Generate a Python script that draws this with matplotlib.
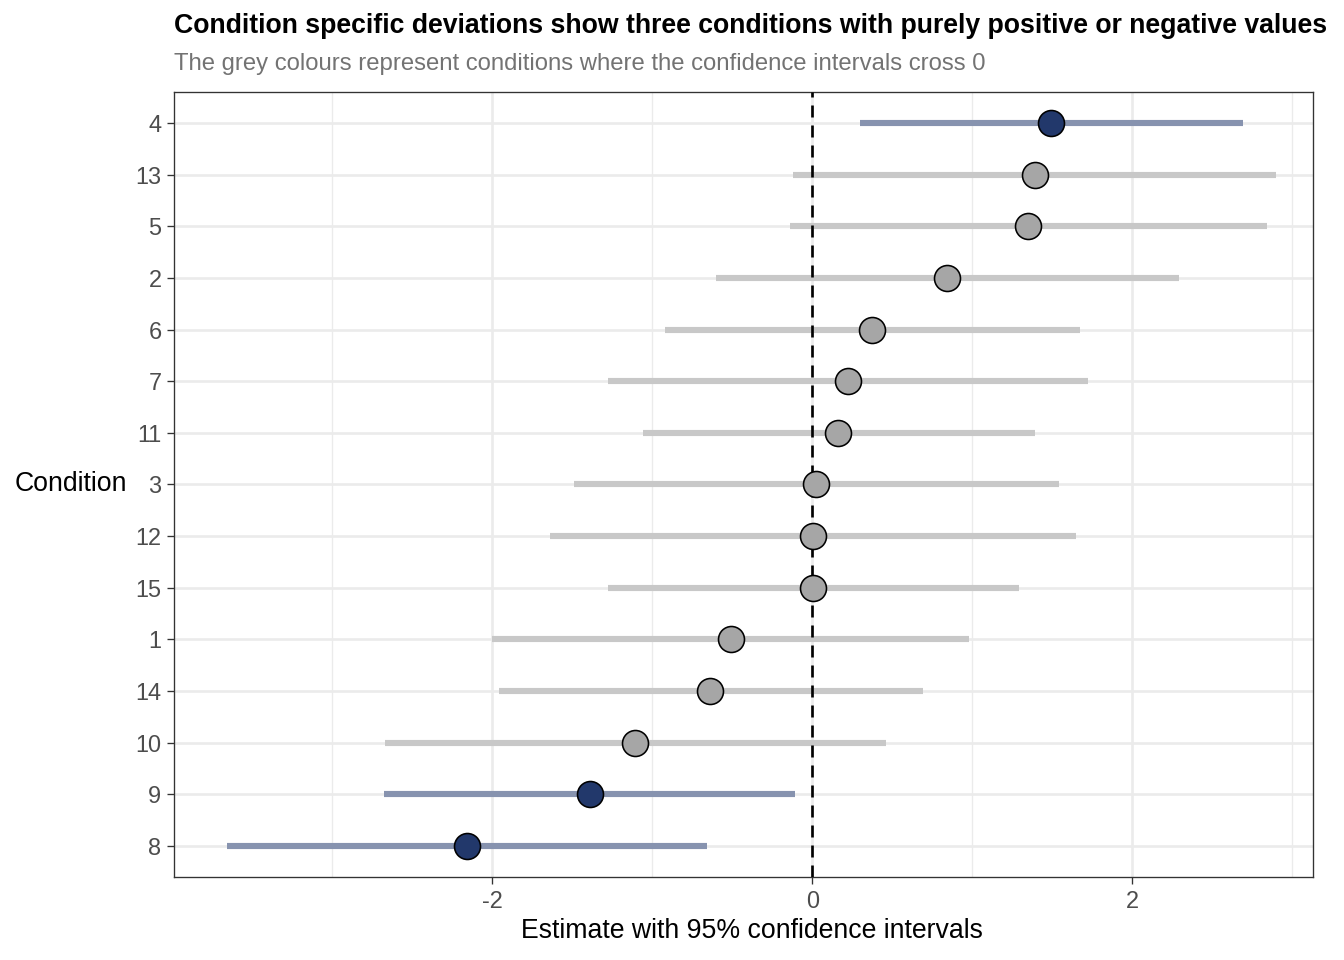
import numpy as np
import matplotlib
matplotlib.use('Agg')
import matplotlib.pyplot as plt
from matplotlib.ticker import MultipleLocator

# ── Data (top to bottom order) ─────────────────────────────────────────────
conditions = ['4', '13', '5', '2', '6', '7', '11', '3', '12', '15', '1', '14', '10', '9', '8']
estimate = [1.49, 1.39, 1.35, 0.84, 0.375, 0.22, 0.16, 0.025, 0.006, 0.006,
            -0.51, -0.64, -1.11, -1.39, -2.16]
lower = [0.30, -0.12, -0.14, -0.60, -0.92, -1.275, -1.06, -1.49, -1.64, -1.275,
         -2.00, -1.96, -2.67, -2.675, -3.66]
upper = [2.69, 2.90, 2.84, 2.29, 1.67, 1.72, 1.39, 1.54, 1.65, 1.29,
         0.98, 0.69, 0.46, -0.11, -0.66]

# ── Style ──────────────────────────────────────────────────────────────────
NAVY = '#22386b'
NAVY_CI = '#8793af'
GREY = '#a6a6a6'
GREY_CI = '#c8c8c8'
GRID = '#ebebeb'
FONT = 'Liberation Sans'

plt.rcParams['font.family'] = [FONT, 'DejaVu Sans']

fig = plt.figure(figsize=(7, 5), dpi=192)
ax = fig.add_axes([0.1295, 0.0865, 0.977 - 0.1295, 0.9042 - 0.0865])

n = len(conditions)
ypos = np.arange(n)[::-1] + 1  # top row has highest y

for y, est, lo, hi in zip(ypos, estimate, lower, upper):
    sig = lo > 0 or hi < 0
    ax.hlines(y, lo, hi, color=NAVY_CI if sig else GREY_CI, lw=2.3, zorder=3,
              capstyle='butt')
    ax.scatter(est, y, s=95, color=NAVY if sig else GREY, edgecolor='black',
               linewidth=0.6, zorder=5)

ax.axvline(0, color='black', lw=1.0, ls=(0, (4.5, 3)), zorder=4)

ax.set_xlim(-3.99, 3.13)
ax.set_ylim(0.4, n + 0.6)
ax.set_yticks(ypos)
ax.set_yticklabels(conditions)
ax.xaxis.set_major_locator(MultipleLocator(2))
ax.xaxis.set_minor_locator(MultipleLocator(1))
ax.set_xticks([-2, 0, 2])
ax.set_xticklabels(['-2', '0', '2'])

ax.grid(which='major', color=GRID, lw=1.0, zorder=0)
ax.grid(which='minor', axis='x', color=GRID, lw=0.5, zorder=0)
ax.set_axisbelow(True)
ax.tick_params(which='major', length=2.75, width=0.5, color='#333333',
               labelsize=8.8, labelcolor='#4d4d4d', pad=2)
ax.tick_params(which='minor', length=0)
for sp in ax.spines.values():
    sp.set_color('#333333')
    sp.set_linewidth(0.5)

ax.set_xlabel('Estimate with 95% confidence intervals', fontsize=10, labelpad=3)
ax.xaxis.set_label_coords(0.507, -0.052)
ax.set_ylabel('Condition', fontsize=10, rotation=0, ha='right', va='center', labelpad=3)

fig.text(0.1295, 0.973, 'Condition specific deviations show three conditions with purely positive or negative values',
         fontsize=10.0, fontweight='bold', ha='left', va='center')
fig.text(0.1295, 0.933, 'The grey colours represent conditions where the confidence intervals cross 0',
         fontsize=8.95, color='#737373', ha='left', va='center')

fig.savefig('out.png', dpi=192)
